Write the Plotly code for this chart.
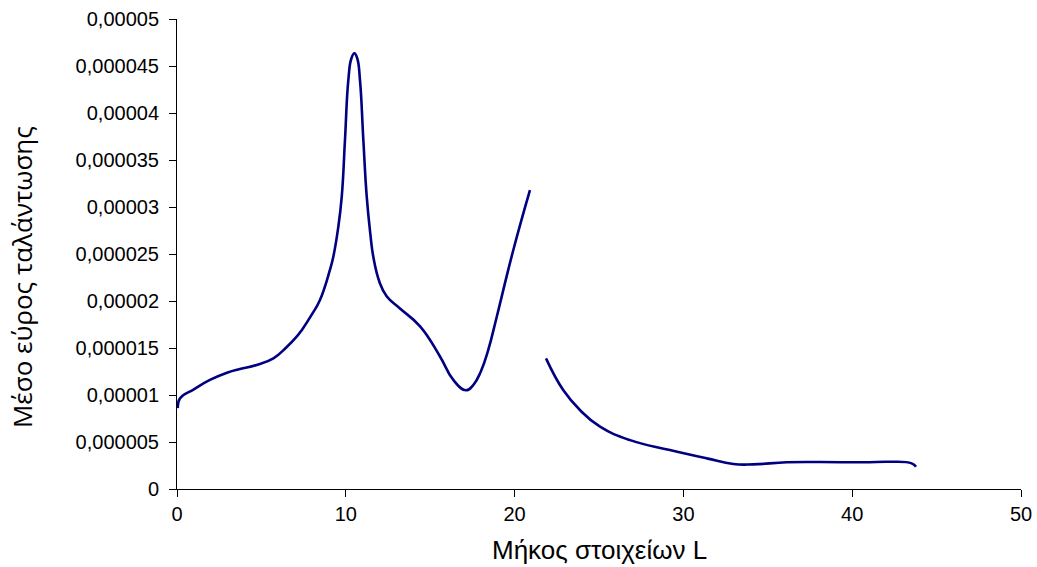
import plotly.graph_objects as go

# Mean oscillation amplitude vs element length L (two branches)
length_a = [0.05, 0.18, 1.0, 1.95, 3.0, 3.73, 4.72, 5.71, 6.5, 7.09, 7.39, 8.0, 8.47, 9.06, 9.26, 9.55,
            9.76, 9.95, 10.15, 10.33, 10.51, 10.68, 10.84, 11.04, 11.24, 11.45, 11.63, 12.0, 12.42,
            13.21, 14.4, 15.58, 16.37, 17.12, 17.55, 18.0, 18.44, 18.94, 19.92, 20.91]
amp_a = [8.6e-6, 9.65e-6, 1.06e-5, 1.16e-5, 1.24e-5, 1.277e-5, 1.32e-5, 1.39e-5, 1.51e-5, 1.62e-5,
         1.69e-5, 1.86e-5, 2.01e-5, 2.33e-5, 2.47e-5, 2.78e-5, 3.11e-5, 3.71e-5, 4.35e-5, 4.58e-5,
         4.635e-5, 4.58e-5, 4.35e-5, 3.71e-5, 3.11e-5, 2.72e-5, 2.47e-5, 2.2e-5, 2.05e-5,
         1.92e-5, 1.73e-5, 1.41e-5, 1.16e-5, 1.05e-5, 1.106e-5, 1.25e-5, 1.48e-5, 1.83e-5, 2.54e-5,
         3.18e-5]

length_b = [21.86, 22.89, 23.87, 25.06, 26.84, 29.2, 31.38, 32.96, 34.14, 36.12, 38.09, 40.66,
            42.24, 43.52, 43.78]
amp_b = [1.39e-5, 1.05e-5, 8.4e-6, 6.63e-6, 5.2e-6, 4.15e-6, 3.26e-6, 2.66e-6, 2.62e-6, 2.84e-6,
         2.87e-6, 2.84e-6, 2.9e-6, 2.73e-6, 2.37e-6]

x_ticks = [0, 10, 20, 30, 40, 50]
y_ticks = [0, 0.000005, 0.00001, 0.000015, 0.00002, 0.000025, 0.00003, 0.000035, 0.00004,
           0.000045, 0.00005]
y_tick_text = ["0", "0,000005", "0,00001", "0,000015", "0,00002", "0,000025", "0,00003",
               "0,000035", "0,00004", "0,000045", "0,00005"]

line_color = "#000080"

fig = go.Figure()
for xs, ys in [(length_a, amp_a), (length_b, amp_b)]:
    fig.add_trace(go.Scatter(x=xs, y=ys, mode="lines",
                             line=dict(color=line_color, width=2.6, shape="spline", smoothing=1.3),
                             showlegend=False, hoverinfo="x+y"))

axis_font = dict(family="Liberation Sans, Arial, sans-serif", size=20, color="#000000")

fig.update_layout(
    template="none",
    width=1037, height=567,
    margin=dict(l=177, r=16, t=19, b=78),
    paper_bgcolor="white", plot_bgcolor="white",
    xaxis=dict(range=[0, 50], tickvals=x_ticks, ticks="outside", ticklen=7, tickwidth=1,
               tickcolor="#000000", showline=True, linecolor="#000000", linewidth=1,
               showgrid=False, zeroline=False, tickfont=axis_font, automargin=False),
    yaxis=dict(range=[0, 0.00005], tickvals=y_ticks, ticktext=y_tick_text, ticks="outside",
               ticklen=7, tickwidth=1, tickcolor="#000000", showline=True, linecolor="#000000",
               linewidth=1, showgrid=False, zeroline=False, tickfont=axis_font, automargin=False,
               ticklabelstandoff=6),
    annotations=[
        dict(text="Μήκος στοιχείων L", xref="paper", yref="paper", x=0.5, y=0,
             xanchor="center", yanchor="middle", yshift=-61, showarrow=False,
             font=dict(family="Liberation Sans, Arial, sans-serif", size=26, color="#000000")),
        dict(text="Μέσο εύρος ταλάντωσης", xref="paper", yref="paper", x=0, y=0.451,
             xanchor="center", yanchor="middle", xshift=-155, textangle=-90, showarrow=False,
             font=dict(family="Open Sans, sans-serif", size=26, color="#000000")),
    ],
)

fig.write_html("out.html")
